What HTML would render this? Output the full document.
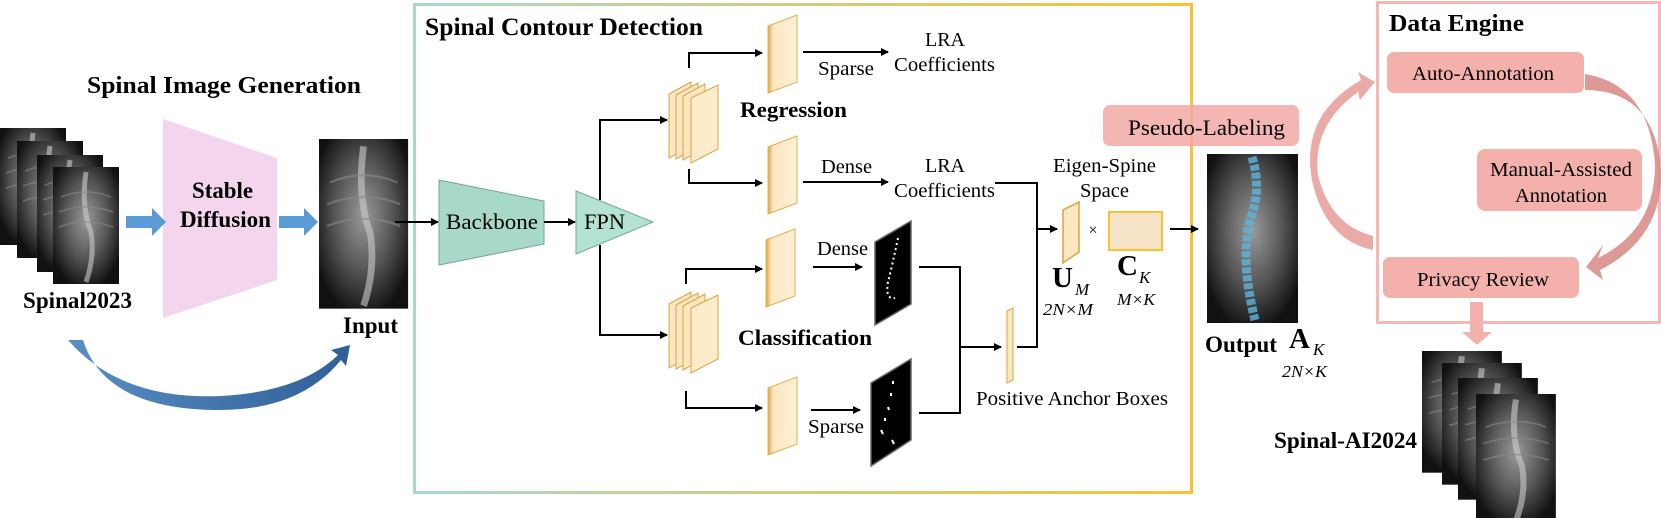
<!DOCTYPE html>
<html><head><meta charset="utf-8"><style>
html,body{margin:0;padding:0;background:#fff}
svg{display:block}
text{font-family:"Liberation Serif",serif}
.b{font-weight:bold}
</style></head><body>
<svg width="1661" height="518" viewBox="0 0 1661 518" xmlns="http://www.w3.org/2000/svg">
<defs>
<radialGradient id="xr" cx="0.5" cy="0.45" r="0.6">
<stop offset="0" stop-color="#9a9a9a"/><stop offset="0.55" stop-color="#555"/><stop offset="1" stop-color="#111"/>
</radialGradient>
<linearGradient id="bord" x1="0" y1="0" x2="1" y2="0">
<stop offset="0" stop-color="#a8d8c8"/><stop offset="1" stop-color="#f7c233"/>
</linearGradient>
<linearGradient id="pan" x1="0" y1="0" x2="1" y2="0">
<stop offset="0" stop-color="#d9a441"/><stop offset="0.18" stop-color="#fde7c2"/><stop offset="1" stop-color="#fdf0d8"/>
</linearGradient>
<linearGradient id="blu" x1="0" y1="0" x2="1" y2="0">
<stop offset="0" stop-color="#5a8ec5"/><stop offset="1" stop-color="#2f5f98"/>
</linearGradient>
<marker id="ar" markerWidth="8" markerHeight="8" refX="7" refY="4" orient="auto" markerUnits="userSpaceOnUse">
<path d="M0,0 L8,4 L0,8 z" fill="#000"/></marker>
<g id="xray">
<rect width="66" height="117" fill="url(#xr)"/>
<path d="M33,5 Q28,40 38,65 Q42,90 33,115" stroke="#ccc" stroke-width="5" fill="none" opacity="0.6"/>
<path d="M8,30 Q33,20 58,30 M6,45 Q33,35 60,45 M6,60 Q33,50 60,60" stroke="#888" stroke-width="1.5" fill="none" opacity="0.6"/>
</g>
<g id="panel">
<polygon points="0,11 29,0 29,67 0,78" fill="url(#pan)" stroke="#e0b050" stroke-width="1"/>
</g>
<g id="stack">
<polygon points="0,12 22,0 22,64 0,76" fill="#fde7c2" stroke="#d9a441"/>
<polygon points="7,13 29,1 29,65 7,77" fill="#fde7c2" stroke="#d9a441"/>
<polygon points="14,14 36,2 36,66 14,78" fill="#fde7c2" stroke="#d9a441"/>
<polygon points="22,16 49,3 49,67 22,81" fill="#fdebc9" stroke="#d9a441"/>
</g>
</defs>

<text x="87" y="93" font-size="24" class="b" textLength="274" lengthAdjust="spacingAndGlyphs">Spinal Image Generation</text>
<use href="#xray" x="0" y="128"/>
<use href="#xray" x="17" y="141"/>
<use href="#xray" x="37" y="155"/>
<use href="#xray" x="53" y="167"/>
<text x="23" y="308" font-size="23" class="b" textLength="109" lengthAdjust="spacingAndGlyphs">Spinal2023</text>
<polygon points="163,119 277,158 277,280 163,318" fill="#f3d6ee"/>
<text x="192" y="198" font-size="23" class="b" textLength="61" lengthAdjust="spacingAndGlyphs">Stable</text>
<text x="180" y="227" font-size="23" class="b" textLength="91" lengthAdjust="spacingAndGlyphs">Diffusion</text>
<polygon points="126,216 152,216 152,208 166,222 152,236 152,228 126,228" fill="#5b9bd5"/>
<polygon points="279,216 304,216 304,208 318,222 304,236 304,228 279,228" fill="#5b9bd5"/>
<g transform="translate(319,139) scale(1.35,1.45)"><use href="#xray"/></g>
<text x="343" y="333" font-size="23" class="b" textLength="55" lengthAdjust="spacingAndGlyphs">Input</text>
<path d="M68,340 Q120,400 220,396 Q300,392 338,355 L331,350 L350,345 L346,366 L341,360 Q300,410 220,410 Q105,410 83,340 z" fill="url(#blu)"/>

<rect x="414.5" y="4.5" width="777" height="488" fill="none" stroke="url(#bord)" stroke-width="3"/>
<text x="425" y="35" font-size="25" class="b" textLength="278" lengthAdjust="spacingAndGlyphs">Spinal Contour Detection</text>
<line x1="395" y1="222" x2="438" y2="222" stroke="#000" stroke-width="2" marker-end="url(#ar)"/>
<polygon points="439,180 544,201 544,244 439,265" fill="#a8d8c8" stroke="#6fa898" stroke-width="1"/>
<text x="446" y="229" font-size="22" textLength="92" lengthAdjust="spacingAndGlyphs">Backbone</text>
<line x1="544" y1="222" x2="575" y2="222" stroke="#000" stroke-width="2" marker-end="url(#ar)"/>
<polygon points="576,191 653,222 576,254" fill="#b5e3d2" stroke="#6fa898" stroke-width="1"/>
<text x="584" y="229" font-size="22" textLength="41" lengthAdjust="spacingAndGlyphs">FPN</text>
<path d="M600,200 V120 H660 M600,245 V335 H660" stroke="#000" stroke-width="2" fill="none"/>
<line x1="650" y1="120" x2="667" y2="120" stroke="#000" stroke-width="2" marker-end="url(#ar)"/>
<line x1="650" y1="335" x2="667" y2="335" stroke="#000" stroke-width="2" marker-end="url(#ar)"/>
<use href="#stack" x="669" y="82"/>
<use href="#stack" x="669" y="292"/>
<text x="740" y="117" font-size="22" class="b" textLength="107" lengthAdjust="spacingAndGlyphs">Regression</text>
<text x="738" y="345" font-size="22" class="b" textLength="134" lengthAdjust="spacingAndGlyphs">Classification</text>
<path d="M689,68 V53 H762" stroke="#000" stroke-width="2" fill="none" marker-end="url(#ar)"/>
<path d="M689,169 V183 H762" stroke="#000" stroke-width="2" fill="none" marker-end="url(#ar)"/>
<path d="M686,284 V269 H762" stroke="#000" stroke-width="2" fill="none" marker-end="url(#ar)"/>
<path d="M686,391 V408 H762" stroke="#000" stroke-width="2" fill="none" marker-end="url(#ar)"/>
<use href="#panel" x="768" y="15"/>
<use href="#panel" x="768" y="136"/>
<use href="#panel" x="766" y="229"/>
<use href="#panel" x="768" y="377"/>
<line x1="803" y1="52" x2="888" y2="52" stroke="#000" stroke-width="2" marker-end="url(#ar)"/>
<text x="818" y="75" font-size="20" textLength="56" lengthAdjust="spacingAndGlyphs">Sparse</text>
<text x="925" y="46" font-size="20" textLength="40" lengthAdjust="spacingAndGlyphs">LRA</text>
<text x="894" y="71" font-size="20" textLength="101" lengthAdjust="spacingAndGlyphs">Coefficients</text>
<line x1="803" y1="182" x2="888" y2="182" stroke="#000" stroke-width="2" marker-end="url(#ar)"/>
<text x="821" y="173" font-size="20" textLength="51" lengthAdjust="spacingAndGlyphs">Dense</text>
<text x="925" y="172" font-size="20" textLength="40" lengthAdjust="spacingAndGlyphs">LRA</text>
<text x="894" y="197" font-size="20" textLength="101" lengthAdjust="spacingAndGlyphs">Coefficients</text>
<line x1="813" y1="267" x2="862" y2="267" stroke="#000" stroke-width="2" marker-end="url(#ar)"/>
<text x="817" y="255" font-size="20" textLength="51" lengthAdjust="spacingAndGlyphs">Dense</text>
<line x1="811" y1="410" x2="860" y2="410" stroke="#000" stroke-width="2" marker-end="url(#ar)"/>
<text x="808" y="433" font-size="20" textLength="56" lengthAdjust="spacingAndGlyphs">Sparse</text>
<polygon points="875,242 911,221 911,304 875,325" fill="#000" stroke="#666" stroke-width="1.5"/>
<path d="M898,238 Q893,262 888,282 Q885,300 895,298" stroke="#fff" stroke-width="2" stroke-dasharray="2,3" fill="none"/>
<polygon points="871,383 911,359 911,440 871,466" fill="#000" stroke="#666" stroke-width="1.5"/>
<path d="M893,381 l0,3 M891,393 l0,3 M888,407 l1,3 M885,418 l0,3 M881,430 l2,4 M892,440 l2,4" stroke="#fff" stroke-width="2"/>
<path d="M919,267 H960 V413 H919 M960,347 H998" stroke="#000" stroke-width="2" fill="none"/>
<line x1="985" y1="347" x2="1001" y2="347" stroke="#000" stroke-width="2" marker-end="url(#ar)"/>
<polygon points="1007,311 1013,308 1013,380 1007,383" fill="#fde7c2" stroke="#d9a441"/>
<text x="976" y="405" font-size="20" textLength="192" lengthAdjust="spacingAndGlyphs">Positive Anchor Boxes</text>
<path d="M995,183 H1037 V347 H1017" stroke="#000" stroke-width="2" fill="none"/>
<line x1="1037" y1="229" x2="1057" y2="229" stroke="#000" stroke-width="2" marker-end="url(#ar)"/>
<polygon points="1063,210 1079,202 1079,252 1063,263" fill="#fde7c2" stroke="#d9a441" stroke-width="1.5"/>
<text x="1093" y="235" font-size="16" text-anchor="middle">×</text>
<rect x="1109" y="212" width="53" height="38" fill="#f6e3c8" stroke="#f7c233" stroke-width="2"/>
<text x="1053" y="172" font-size="20" textLength="103" lengthAdjust="spacingAndGlyphs">Eigen-Spine</text>
<text x="1080" y="197" font-size="20" textLength="49" lengthAdjust="spacingAndGlyphs">Space</text>
<text x="1052" y="287" font-size="29" class="b">U</text>
<text x="1075" y="295" font-size="17" font-style="italic">M</text>
<text x="1043" y="315" font-size="17" font-style="italic" textLength="50" lengthAdjust="spacingAndGlyphs">2N×M</text>
<text x="1117" y="275" font-size="29" class="b">C</text>
<text x="1139" y="283" font-size="17" font-style="italic">K</text>
<text x="1117" y="305" font-size="17" font-style="italic" textLength="38" lengthAdjust="spacingAndGlyphs">M×K</text>
<line x1="1170" y1="229" x2="1198" y2="229" stroke="#000" stroke-width="2" marker-end="url(#ar)"/>
<rect x="1103" y="105" width="196" height="41" rx="7" fill="#f2a9a4" opacity="0.85"/>
<text x="1128" y="135" font-size="22" textLength="157" lengthAdjust="spacingAndGlyphs">Pseudo-Labeling</text>
<rect x="1207" y="154" width="91" height="169" fill="url(#xr)"/>
<path d="M1252,157 Q1262,190 1250,220 Q1240,260 1255,320" stroke="#5bb4e0" stroke-width="9" fill="none" stroke-dasharray="6,2" opacity="0.8"/>
<text x="1205" y="352" font-size="23" class="b" textLength="72" lengthAdjust="spacingAndGlyphs">Output</text>
<text x="1289" y="348" font-size="29" class="b">A</text>
<text x="1313" y="355" font-size="17" font-style="italic">K</text>
<text x="1282" y="377" font-size="17" font-style="italic" textLength="45" lengthAdjust="spacingAndGlyphs">2N×K</text>
<rect x="1377.5" y="2.5" width="282" height="320" fill="none" stroke="#f5b8b6" stroke-width="3"/>
<text x="1389" y="31" font-size="24" class="b" textLength="135" lengthAdjust="spacingAndGlyphs">Data Engine</text>
<rect x="1387" y="52" width="197" height="41" rx="7" fill="#f4b1ac"/>
<text x="1412" y="80" font-size="20" textLength="142" lengthAdjust="spacingAndGlyphs">Auto-Annotation</text>
<rect x="1477" y="149" width="165" height="62" rx="8" fill="#f4b1ac"/>
<text x="1490" y="176" font-size="20" textLength="142" lengthAdjust="spacingAndGlyphs">Manual-Assisted</text>
<text x="1515" y="202" font-size="20" textLength="92" lengthAdjust="spacingAndGlyphs">Annotation</text>
<rect x="1383" y="257" width="196" height="41" rx="7" fill="#f4b1ac"/>
<text x="1417" y="286" font-size="20" textLength="132" lengthAdjust="spacingAndGlyphs">Privacy Review</text>
<path d="M1373,236 Q1330,225 1318,175 Q1312,125 1358,92 L1360,100 L1375,82 L1358,72 L1361,80 Q1300,115 1312,180 Q1325,240 1373,250 z" fill="#e8a19c" opacity="0.9"/>
<path d="M1585,74 Q1650,85 1655,165 Q1655,230 1598,258 L1603,245 L1586,267 L1603,280 L1600,270 Q1668,235 1660,160 Q1650,90 1585,90 z" fill="#d88e8a" opacity="0.9"/>
<polygon points="1470,302 1483,302 1483,332 1492,332 1477,345 1462,332 1470,332" fill="#f4b1ac"/>
<g transform="translate(1422,351) scale(1.21,1.04)"><use href="#xray"/></g>
<g transform="translate(1442,363) scale(1.21,1.04)"><use href="#xray"/></g>
<g transform="translate(1458,378) scale(1.21,1.04)"><use href="#xray"/></g>
<g transform="translate(1476,394) scale(1.21,1.1)"><use href="#xray"/></g>
<text x="1274" y="448" font-size="23" class="b" textLength="143" lengthAdjust="spacingAndGlyphs">Spinal-AI2024</text>
</svg>
</body></html>
